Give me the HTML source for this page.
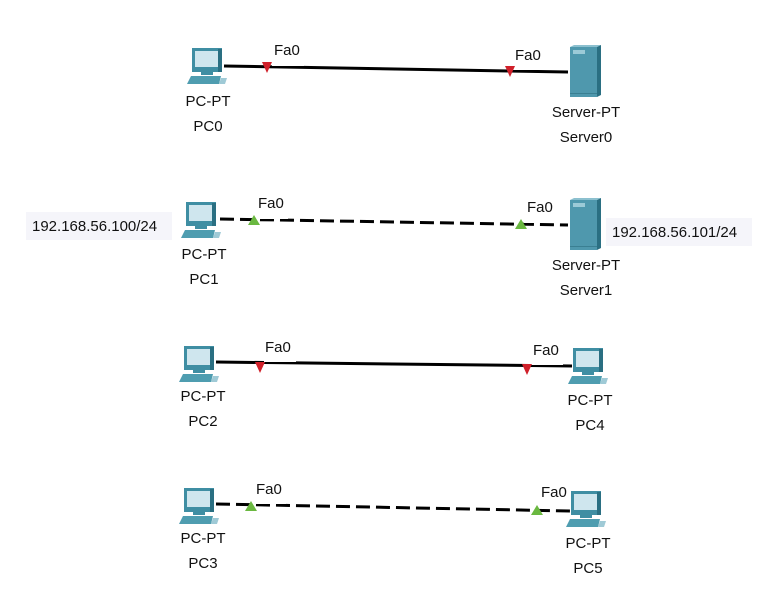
<!DOCTYPE html>
<html><head><meta charset="utf-8"><style>
html,body{margin:0;padding:0;background:#fff;}
svg text{font-family:"Liberation Sans",sans-serif;fill:#111;}
</style></head><body>
<svg width="780" height="596" viewBox="0 0 780 596" xmlns="http://www.w3.org/2000/svg">
<defs>
<g id="pc">
  <rect x="5" y="0" width="30" height="24" fill="#3f8ea3"/>
  <rect x="8" y="3" width="23" height="16" fill="#cfe6ee"/>
  <rect x="31" y="1" width="4" height="23" fill="#2a6f82"/>
  <rect x="14" y="24" width="12" height="3" fill="#3f8ea3"/>
  <polygon points="4,28 34,28 32,36 0,36" fill="#4f9db0"/>
  <polygon points="34,30 40,30 38,36 32,36" fill="#9fcad6"/>
</g>
<g id="srv">
  <polygon points="0,2 27,2 31,0 4,0" fill="#8cc0cf"/>
  <rect x="0" y="2" width="27" height="50" fill="#4f98ad"/>
  <polygon points="27,2 31,0 31,50 27,52" fill="#2a6f82"/>
  <rect x="3" y="5" width="12" height="4" fill="#9ccad7"/>
  <rect x="0" y="48" width="27" height="1" fill="#3a7f92"/>
</g>
</defs>

<!-- links -->
<line x1="224" y1="66" x2="568" y2="72" stroke="#000" stroke-width="3"/>
<line x1="220" y1="219" x2="568" y2="225" stroke="#000" stroke-width="3" stroke-dasharray="14,6"/>
<line x1="216" y1="362" x2="572" y2="366" stroke="#000" stroke-width="3"/>
<line x1="216" y1="504" x2="570" y2="511" stroke="#000" stroke-width="3" stroke-dasharray="14,6"/>

<rect x="272" y="58" width="32" height="8" fill="#fff"/>
<rect x="512" y="62" width="32" height="8" fill="#fff"/>
<rect x="256" y="211" width="32" height="8" fill="#fff"/>
<rect x="524" y="215" width="32" height="8" fill="#fff"/>
<rect x="264" y="354" width="32" height="8" fill="#fff"/>
<rect x="531" y="357" width="32" height="8" fill="#fff"/>
<rect x="254" y="496" width="32" height="8" fill="#fff"/>
<rect x="539" y="500" width="32" height="8" fill="#fff"/>

<!-- markers -->
<polygon points="262,62 272,62 267,73" fill="#d0202a"/>
<polygon points="505,66 515,66 510,77" fill="#d0202a"/>
<polygon points="255,362 265,362 260,373" fill="#d0202a"/>
<polygon points="522,364 532,364 527,375" fill="#d0202a"/>
<polygon points="248,225 260,225 254,215" fill="#6ab840"/>
<polygon points="515,229 527,229 521,219" fill="#6ab840"/>
<polygon points="245,511 257,511 251,501" fill="#6ab840"/>
<polygon points="531,515 543,515 537,505" fill="#6ab840"/>

<g font-size="15">
<text x="274" y="55">Fa0</text><text x="515" y="60">Fa0</text>
<text x="258" y="208">Fa0</text><text x="527" y="212">Fa0</text>
<text x="265" y="352">Fa0</text><text x="533" y="355">Fa0</text>
<text x="256" y="494">Fa0</text><text x="541" y="497">Fa0</text>
</g>

<!-- devices -->
<use href="#pc" x="187" y="48"/>
<use href="#pc" x="181" y="202"/>
<use href="#pc" x="179" y="346"/>
<use href="#pc" x="179" y="488"/>
<use href="#pc" x="568" y="348"/>
<use href="#pc" x="566" y="491"/>
<use href="#srv" x="570" y="45"/>
<use href="#srv" x="570" y="198"/>

<g font-size="15" text-anchor="middle">
<text x="208" y="106">PC-PT</text><text x="208" y="131">PC0</text>
<text x="204" y="259">PC-PT</text><text x="204" y="284">PC1</text>
<text x="203" y="401">PC-PT</text><text x="203" y="426">PC2</text>
<text x="203" y="543">PC-PT</text><text x="203" y="568">PC3</text>
<text x="590" y="405">PC-PT</text><text x="590" y="430">PC4</text>
<text x="588" y="548">PC-PT</text><text x="588" y="573">PC5</text>
<text x="586" y="117">Server-PT</text><text x="586" y="142">Server0</text>
<text x="586" y="270">Server-PT</text><text x="586" y="295">Server1</text>
</g>

<rect x="26" y="212" width="146" height="28" fill="#f5f5fa"/>
<text x="32" y="231" font-size="15">192.168.56.100/24</text>
<rect x="606" y="218" width="146" height="28" fill="#f5f5fa"/>
<text x="612" y="237" font-size="15">192.168.56.101/24</text>
</svg>
</body></html>
